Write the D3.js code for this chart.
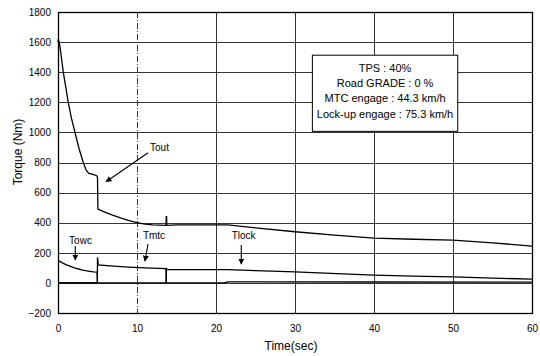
<!DOCTYPE html>
<html>
<head>
<meta charset="utf-8">
<script src="https://cdn.jsdelivr.net/npm/d3@7"></script>
<style>
    body { margin: 0; background: #fff; }
    text { font-family: "Liberation Sans", Arial, sans-serif; fill: #000; }
    .grid line { stroke: #333; stroke-width: 1; shape-rendering: crispEdges; }
    .curve { fill: none; stroke: #000; stroke-width: 1.3; }
</style>
</head>
<body>
<div id="chart"></div>
<script>
/* Data: time (sec) and torque (Nm) */
var toutT = [0, 0.05, 0.25, 0.67, 1.3, 1.7, 2.15, 2.65, 3.2, 3.55, 3.9, 4.3, 4.9, 5.0, 5.05, 6, 7, 8, 9, 10, 11, 12, 13.68, 13.7, 13.75, 13.77, 15, 18, 21.5, 25, 30, 35, 40, 45, 50, 55, 60];
var toutV = [1600, 1620, 1570, 1400, 1200, 1095, 1000, 895, 800, 750, 728, 722, 712, 700, 490, 468, 448, 430, 414, 400, 391, 385, 382, 440, 440, 382, 385, 386, 385, 365, 340, 318, 297, 290, 284, 266, 245];

var towcT = [0, 0.5, 1, 1.5, 2, 2.5, 3, 3.5, 4, 4.5, 4.95, 5.0];
var towcV = [150, 135, 122, 111, 102, 94, 87, 81, 77, 73, 71, 0];

var tmtcT = [0, 4.98, 5.0, 5.1, 7, 9, 11, 13.68, 13.7, 21, 21.5, 40, 60];
var tmtcV = [0, 0, 170, 120, 112, 105, 100, 95, 0, 0, 7, 6, 5];

var tlockT = [0, 13.7, 13.72, 13.8, 18, 21.5, 25, 30, 33, 40, 45, 50, 55, 60];
var tlockV = [0, 0, 100, 88, 88, 88, 82, 73, 66, 51, 45, 40, 32, 25];

var xTicks = [0, 10, 20, 30, 40, 50, 60];
var yTicks = [-200, 0, 200, 400, 600, 800, 1000, 1200, 1400, 1600, 1800];

var infoLines = ["TPS : 40%", "Road GRADE : 0 %", "MTC engage : 44.3 km/h", "Lock-up engage : 75.3 km/h"];

// annotation labels: name, text position, arrow start, arrow tip (data units)
var labelNames = ["Tout", "Towc", "Tmtc", "Tlock"];
var labelPos = [[11.65, 898], [2.85, 285], [12.15, 318], [23.5, 318]];
var arrowFrom = [[11.4, 865], [2.19, 245], [11.4, 258], [23.2, 251]];
var arrowTo = [[6.08, 672], [2.19, 152], [11.0, 145], [23.2, 125]];

var vis = {};
vis.margin = {top: 12, right: 8, bottom: 43, left: 58};
vis.width = 540 - vis.margin.left - vis.margin.right;
vis.height = 356 - vis.margin.top - vis.margin.bottom;

vis.svg = d3.select("#chart").append("svg")
    .attr("width", 540)
    .attr("height", 356);

vis.svg.append("defs").append("marker")
    .attr("id", "arrow")
    .attr("viewBox", "0 0 10 10")
    .attr("refX", 9)
    .attr("refY", 5)
    .attr("markerWidth", 6)
    .attr("markerHeight", 6)
    .attr("markerUnits", "userSpaceOnUse")
    .attr("orient", "auto")
    .append("path")
    .attr("d", "M0,0L10,5L0,10z")
    .attr("fill", "#000");

vis.g = vis.svg.append("g")
    .attr("transform", "translate(" + vis.margin.left + "," + vis.margin.top + ")");

vis.x = d3.scaleLinear().domain([0, 60]).range([0, vis.width]);
vis.y = d3.scaleLinear().domain([-200, 1800]).range([vis.height, 0]);

/* Grid */
vis.grid = vis.g.append("g").attr("class", "grid");
vis.grid.selectAll(".h").data(yTicks).enter().append("line")
    .attr("x1", 0).attr("x2", vis.width)
    .attr("y1", function(d) { return Math.round(vis.y(d)) + 0.5; })
    .attr("y2", function(d) { return Math.round(vis.y(d)) + 0.5; });
vis.grid.selectAll(".v").data(xTicks).enter().append("line")
    .attr("y1", 0).attr("y2", vis.height)
    .attr("x1", function(d) { return Math.round(vis.x(d)) + 0.5; })
    .attr("x2", function(d) { return Math.round(vis.x(d)) + 0.5; })
    .attr("stroke-dasharray", function(d) { return d == 10 ? "6,2,1,2" : null; });

/* Axes */
vis.xAxis = vis.g.append("g")
    .attr("transform", "translate(0," + vis.height + ")")
    .call(d3.axisBottom(vis.x).tickValues(xTicks).tickFormat(d3.format("d")).tickSize(0).tickPadding(12));
vis.yAxis = vis.g.append("g")
    .call(d3.axisLeft(vis.y).tickValues(yTicks).tickFormat(d3.format("d")).tickSize(0).tickPadding(7));
[vis.xAxis, vis.yAxis].forEach(function(a) {
    a.select(".domain").remove();
    a.selectAll("text").style("font-size", "10px").style("font-family", "'Liberation Sans', Arial, sans-serif");
});

vis.g.append("rect")
    .attr("x", 0.5).attr("y", 0.5)
    .attr("width", vis.width).attr("height", vis.height)
    .attr("fill", "none").attr("stroke", "#000").attr("stroke-width", 1.3);

/* Curves */
vis.line = d3.line()
    .x(function(d) { return vis.x(d[0]); })
    .y(function(d) { return vis.y(d[1]); });

function pairs(t, v) {
    return t.map(function(d, i) { return [d, v[i]]; });
}

[pairs(toutT, toutV), pairs(towcT, towcV), pairs(tmtcT, tmtcV), pairs(tlockT, tlockV)].forEach(function(s) {
    vis.g.append("path").attr("class", "curve").attr("d", vis.line(s));
});

/* Labels + arrows */
labelNames.forEach(function(n, i) {
    vis.g.append("line")
        .attr("x1", vis.x(arrowFrom[i][0])).attr("y1", vis.y(arrowFrom[i][1]))
        .attr("x2", vis.x(arrowTo[i][0])).attr("y2", vis.y(arrowTo[i][1]))
        .attr("stroke", "#000").attr("stroke-width", 1.1)
        .attr("marker-end", "url(#arrow)");
    vis.g.append("text")
        .attr("x", vis.x(labelPos[i][0])).attr("y", vis.y(labelPos[i][1]))
        .attr("dy", "0.35em")
        .attr("text-anchor", i == 0 ? "start" : "middle")
        .style("font-size", "10px")
        .text(n);
});

/* Info box */
vis.box = vis.g.append("g");
vis.box.append("rect")
    .attr("x", vis.x(32.2)).attr("y", vis.y(1513))
    .attr("width", vis.x(50.6) - vis.x(32.2))
    .attr("height", vis.y(1007) - vis.y(1513))
    .attr("fill", "#fff").attr("stroke", "#000").attr("stroke-width", 1);
vis.box.selectAll("text").data(infoLines).enter().append("text")
    .attr("x", (vis.x(32.2) + vis.x(50.6)) / 2)
    .attr("y", function(d, i) { return vis.y(1513) + 13 + i * 15.2; })
    .attr("dy", "0.35em")
    .attr("text-anchor", "middle")
    .style("font-size", "11px")
    .text(function(d) { return d; });

/* Axis titles */
vis.svg.append("text")
    .attr("x", 291).attr("y", 350)
    .attr("text-anchor", "middle")
    .style("font-size", "12px")
    .text("Time(sec)");
vis.svg.append("text")
    .attr("transform", "translate(22,152) rotate(-90)")
    .attr("text-anchor", "middle")
    .style("font-size", "12px")
    .text("Torque (Nm)");
</script>
</body>
</html>
